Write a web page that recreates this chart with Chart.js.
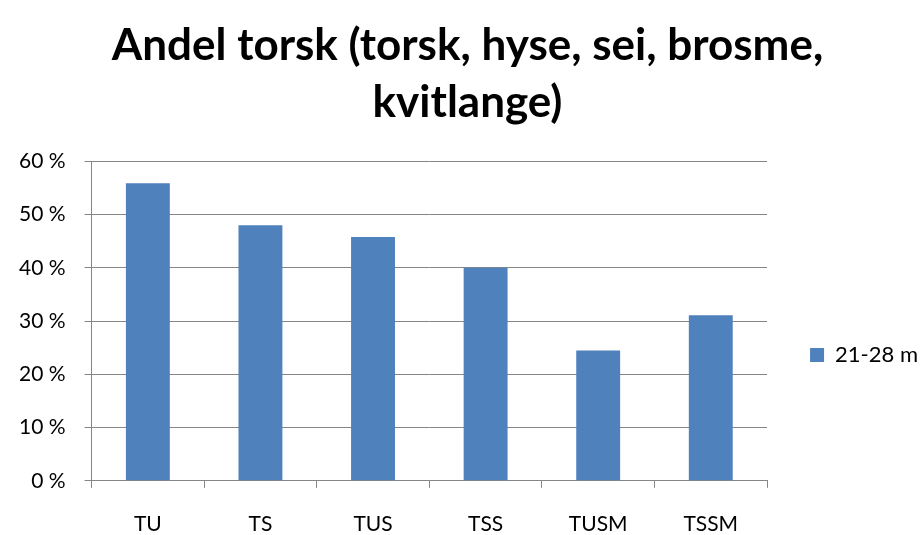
<!DOCTYPE html>
<html>
<head>
<meta charset="utf-8">
<script src="https://cdn.jsdelivr.net/npm/chart.js@4"></script>
<style>
  html, body { margin: 0; padding: 0; background: #fff; }
  #wrap { width: 923px; height: 535px; }
</style>
</head>
<body>
<div id="wrap"><canvas id="myChart" width="923" height="535"></canvas></div>
<script>
const categories = ['TU', 'TS', 'TUS', 'TSS', 'TUSM', 'TSSM'];
const values = [0.559, 0.48, 0.458, 0.40, 0.245, 0.311];
const seriesName = '21-28 m';
const titleLines = ['Andel torsk (torsk, hyse, sei, brosme,', 'kvitlange)'];

const fontName = 'Lato, "Open Sans", sans-serif';

// nudge legend and title to where the original puts them
const shiftBoxes = {
    id: 'shiftBoxes',
    afterLayout(chart) {
        let lg = chart.legend;
        let legendLeft = chart.chartArea.right + 33;
        let dx = legendLeft - lg.left;
        lg.left += dx; lg.right += dx;
        lg.top += 66; lg.bottom += 66;
        let t = chart.titleBlock;
        t.left += 20; t.right += 20;
    }
};

let ctx = document.getElementById('myChart').getContext('2d');
let myChart = new Chart(ctx, {
    type: 'bar',
    data: {
        labels: categories,
        datasets: [{
            label: seriesName,
            data: values,
            backgroundColor: '#4F81BD',
            borderColor: '#4F81BD',
            borderWidth: 0,
            barPercentage: 0.39,
            categoryPercentage: 1
        }]
    },
    options: {
        responsive: false,
        animation: false,
        layout: {
            padding: { left: 0, right: 28, top: 17, bottom: -26 }
        },
        plugins: {
            title: {
                display: true,
                text: titleLines,
                color: '#000',
                font: { family: fontName, size: 44, weight: 'bold', lineHeight: 1.3 },
                padding: { top: 0, bottom: 30 }
            },
            legend: {
                position: 'right',
                labels: {
                    color: '#000',
                    font: { family: fontName, size: 22 },
                    boxWidth: 14,
                    boxHeight: 14,
                    padding: 10
                }
            },
            tooltip: { enabled: false }
        },
        scales: {
            x: {
                grid: {
                    display: true,
                    drawOnChartArea: false,
                    drawTicks: true,
                    tickLength: 7,
                    offset: true,
                    color: '#868686'
                },
                border: { color: '#868686', width: 1 },
                ticks: {
                    color: '#000',
                    font: { family: fontName, size: 21 },
                    padding: 24
                }
            },
            y: {
                min: 0,
                max: 0.6,
                ticks: {
                    stepSize: 0.1,
                    color: '#000',
                    font: { family: fontName, size: 21 },
                    padding: 19,
                    callback: function (v) { return Math.round(v * 100) + ' %'; }
                },
                grid: {
                    color: '#868686',
                    tickLength: 7
                },
                border: { color: '#868686', width: 1 }
            }
        }
    },
    plugins: [shiftBoxes]
});
</script>
</body>
</html>
